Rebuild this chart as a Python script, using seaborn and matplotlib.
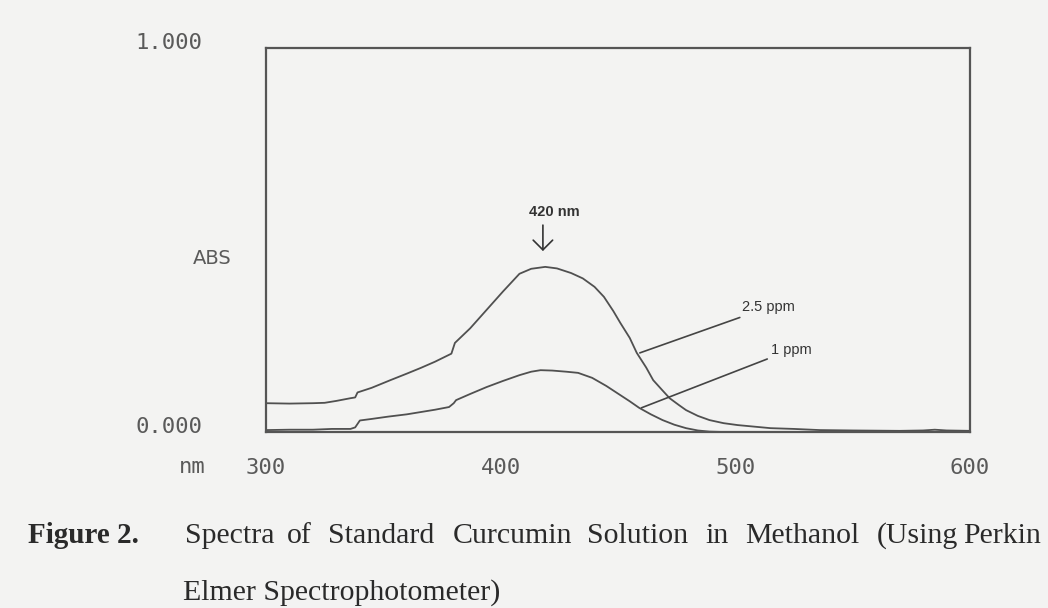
import numpy as np
import pandas as pd
import matplotlib
matplotlib.use("Agg")
import matplotlib.pyplot as plt
import matplotlib.transforms as mtransforms
import seaborn as sns

# ---- data ----
wl_25 = [300, 310, 320, 325, 330, 336, 338, 339, 345, 353, 360, 366, 372, 379, 380.5,
         387, 394, 401, 408, 413, 419, 424, 430, 435, 440, 444, 448, 451, 455, 458,
         462, 465, 469, 472, 476, 479, 484, 489, 495, 501, 508, 515, 525, 536, 550,
         570, 580, 585, 590, 600]
abs_25 = [0.075, 0.074, 0.075, 0.076, 0.081, 0.088, 0.090, 0.103, 0.115, 0.135, 0.152,
          0.167, 0.183, 0.204, 0.232, 0.270, 0.318, 0.366, 0.412, 0.425, 0.430, 0.426,
          0.414, 0.400, 0.378, 0.352, 0.315, 0.284, 0.245, 0.206, 0.168, 0.135, 0.108,
          0.088, 0.070, 0.057, 0.042, 0.031, 0.023, 0.018, 0.014, 0.010, 0.008, 0.005,
          0.004, 0.003, 0.004, 0.006, 0.004, 0.003]

wl_1 = [300, 310, 320, 328, 336, 338, 340, 345, 352, 360, 366, 372, 378, 380, 381,
        387, 394, 401, 408, 413, 417, 422, 428, 433, 439, 445, 451, 455, 459, 464,
        469, 474, 479, 484, 489, 495, 500, 550, 600]
abs_1 = [0.005, 0.006, 0.006, 0.008, 0.008, 0.012, 0.030, 0.034, 0.040, 0.046, 0.052,
         0.058, 0.065, 0.075, 0.083, 0.099, 0.117, 0.133, 0.148, 0.157, 0.161, 0.160,
         0.157, 0.154, 0.141, 0.120, 0.096, 0.080, 0.063, 0.046, 0.031, 0.019, 0.010,
         0.004, 0.001, 0.0, 0.0, 0.0, 0.0]

series_names = ["2.5 ppm", "1 ppm"]
x_ticks = [300, 400, 500, 600]
x_ticklabels = ["300", "400", "500", "600"]
y_ticks = [0.0, 1.0]
y_ticklabels = ["0.000", "1.000"]
peak_label = "420 nm"
peak_nm = 418
caption_bold = "Figure 2."
caption_words = ["Spectra", "of", "Standard", "Curcumin", "Solution", "in",
                 "Methanol", "(Using", "Perkin"]
caption_word_x = [185, 287, 328, 453, 587, 705, 745, 877, 963]
caption_line2 = "Elmer Spectrophotometer)"

df = pd.concat([
    pd.DataFrame({"nm": wl_25, "ABS": abs_25, "series": series_names[0]}),
    pd.DataFrame({"nm": wl_1, "ABS": abs_1, "series": series_names[1]}),
], ignore_index=True)

sns.set_style("white")
bg = "#f3f3f2"
fig = plt.figure(figsize=(10.48, 6.08), dpi=100, facecolor=bg)
ax = fig.add_axes([266 / 1048, 1 - 432 / 608, (970 - 266) / 1048, (432 - 48) / 608])
ax.set_facecolor(bg)

sns.lineplot(data=df, x="nm", y="ABS", hue="series", estimator=None, sort=False,
             palette={series_names[0]: "#505050", series_names[1]: "#505050"},
             linewidth=1.3, legend=False, ax=ax)

ax.set_xlim(300, 600)
ax.set_ylim(0, 1)
for s in ax.spines.values():
    s.set_color("#555555")
    s.set_linewidth(1.6)

mono = "DejaVu Sans Mono"
ax.set_xticks(x_ticks, x_ticklabels)
ax.tick_params(axis="x", direction="out", length=8, width=1.4, color="#555555",
               pad=11, labelsize=16, labelcolor="#5a5a5a")
for lab in ax.get_xticklabels():
    lab.set_fontfamily(mono)
ax.set_yticks(y_ticks, y_ticklabels)
ax.tick_params(axis="y", length=0, pad=46, labelsize=16, labelcolor="#5a5a5a")
off = mtransforms.ScaledTranslation(0, 5 / 72, fig.dpi_scale_trans)
for lab in ax.get_yticklabels():
    lab.set_fontfamily(mono)
    lab.set_transform(lab.get_transform() + off)
ax.set_xlabel("")
ax.set_ylabel("")

# axis captions drawn in figure pixels
fig.text(212 / 1048, 1 - 258 / 608, "ABS", fontsize=14, color="#5a5a5a",
         ha="center", va="center", family="DejaVu Sans")
fig.text(192 / 1048, 1 - 467 / 608, "nm", fontsize=16, color="#5a5a5a",
         ha="center", va="center", family=mono)

# peak annotation
ax.annotate("", xy=(peak_nm, 0.464), xytext=(peak_nm, 0.546),
            arrowprops=dict(arrowstyle="->,head_length=0.7,head_width=0.7",
                            color="#333333", lw=1.2))
ax.text(peak_nm + 5, 0.572, peak_label, fontsize=10.5, fontweight="bold",
        family="Liberation Sans", color="#333333", ha="center", va="center")

# leader lines to series labels
ax.annotate(series_names[0], xy=(459.3, 0.206), xytext=(503, 0.325),
            fontsize=10.5, family="Liberation Sans", color="#333333",
            ha="left", va="center",
            arrowprops=dict(arrowstyle="-", color="#444444", lw=1.2,
                            shrinkA=0, shrinkB=0))
ax.annotate(series_names[1], xy=(460, 0.063), xytext=(515, 0.214),
            fontsize=10.5, family="Liberation Sans", color="#333333",
            ha="left", va="center",
            arrowprops=dict(arrowstyle="-", color="#444444", lw=1.2,
                            shrinkA=0, shrinkB=0))

# figure caption
serif = "Liberation Serif"
fig.text(28 / 1048, 1 - 543 / 608, caption_bold, fontsize=21, fontweight="bold",
         family=serif, color="#2a2a2a", ha="left", va="baseline")
for w, xp in zip(caption_words, caption_word_x):
    fig.text(xp / 1048, 1 - 543 / 608, w, fontsize=21.5, family=serif,
             color="#2a2a2a", ha="left", va="baseline")
fig.text(183 / 1048, 1 - 600 / 608, caption_line2, fontsize=21.5, family=serif,
         color="#2a2a2a", ha="left", va="baseline")

fig.savefig("out.png", dpi=100, facecolor=bg)
